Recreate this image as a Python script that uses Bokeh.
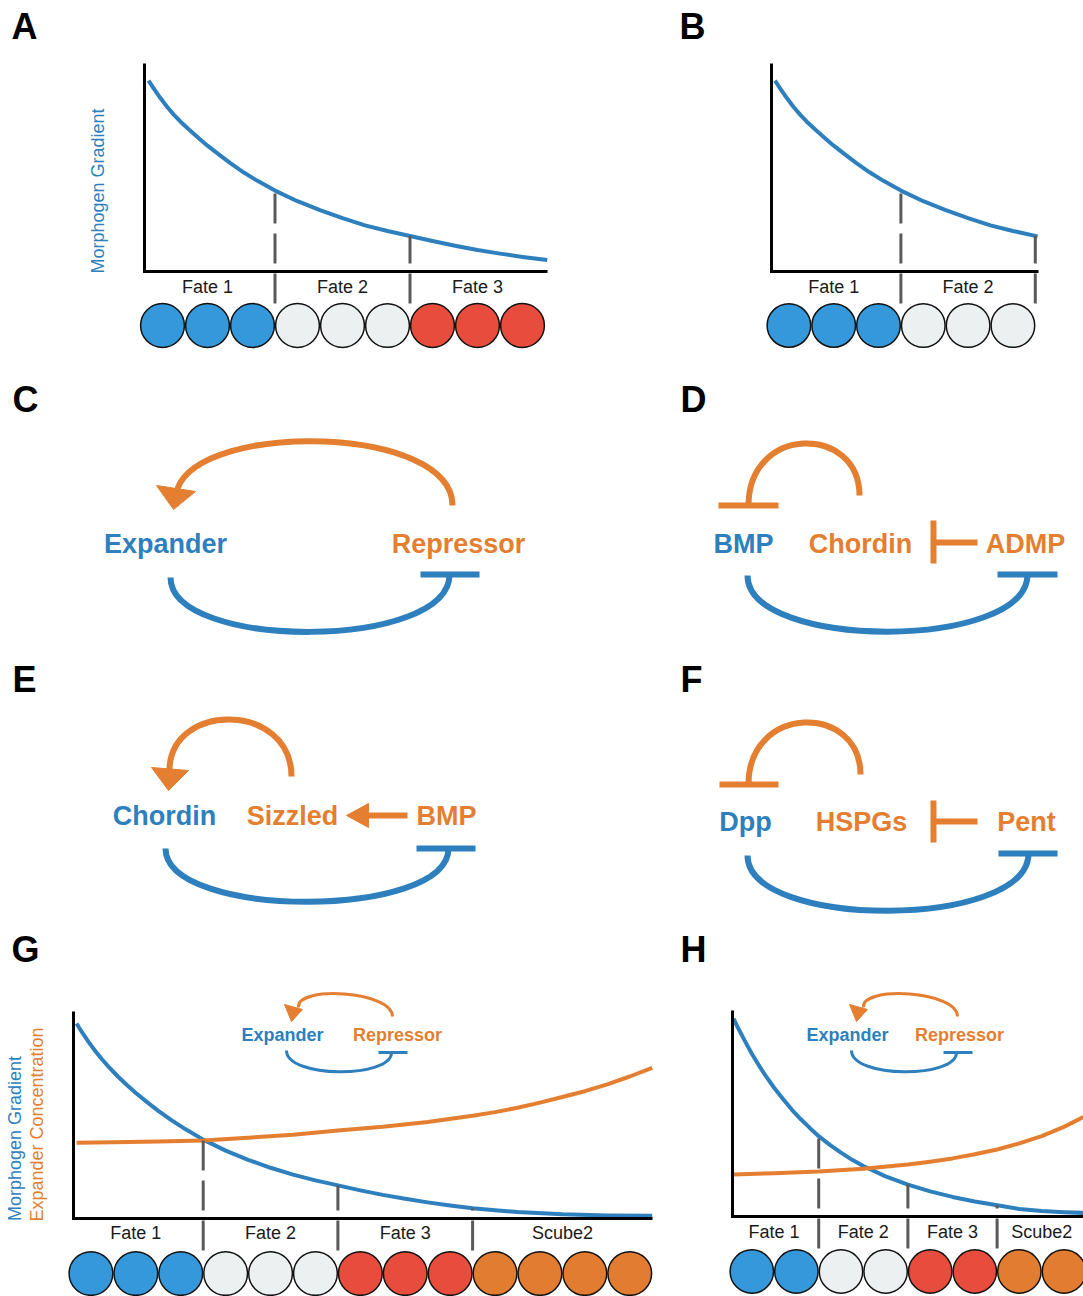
import numpy as np
from bokeh.plotting import figure
from bokeh.models import Range1d
from bokeh.core.properties import value
from bokeh.embed import file_html
from bokeh.resources import INLINE

# ------------------------------------------------------------------ data
# Morphogen / expander levels as a fraction of the axis height, sampled
# along the tissue (position in cell diameters from the source).
grad_a_pos = [0.19, 0.3, 0.45, 0.6, 0.75, 0.9, 1.1, 1.3, 1.5, 1.75, 2.0,
              2.3, 2.6, 3.0, 3.5, 4.0, 4.5, 5.0, 5.5, 6.0, 6.5, 7.0, 7.5,
              8.0, 8.5, 9.05]
grad_a_level = [0.918, 0.882, 0.835, 0.792, 0.754, 0.72, 0.68, 0.642, 0.605,
                0.563, 0.522, 0.477, 0.437, 0.389, 0.338, 0.295, 0.257,
                0.222, 0.195, 0.171, 0.147, 0.124, 0.103, 0.086, 0.07, 0.055]

grad_b_pos = [0.19, 0.3, 0.45, 0.6, 0.75, 0.9, 1.1, 1.3, 1.5, 1.75, 2.0,
              2.3, 2.6, 3.0, 3.5, 4.0, 4.5, 5.0, 5.5, 6.05]
grad_b_level = [0.918, 0.882, 0.835, 0.792, 0.754, 0.72, 0.68, 0.642, 0.605,
                0.563, 0.522, 0.477, 0.437, 0.389, 0.338, 0.295, 0.257,
                0.222, 0.195, 0.169]

grad_g_pos = [0.18, 0.3, 0.45, 0.6, 0.75, 0.9, 1.1, 1.3, 1.5, 1.75, 2.0,
              2.3, 2.6, 3.0, 3.5, 4.0, 4.5, 5.0, 5.5, 6.0, 6.5, 7.0, 7.5,
              8.0, 8.5, 9.0, 9.5, 10.0, 11.0, 12.0, 13.0]
grad_g_level = [0.942, 0.9, 0.852, 0.808, 0.768, 0.731, 0.686, 0.645, 0.606,
                0.562, 0.52, 0.474, 0.432, 0.381, 0.328, 0.283, 0.245, 0.212,
                0.184, 0.16, 0.136, 0.114, 0.095, 0.078, 0.063, 0.05, 0.04,
                0.031, 0.02, 0.015, 0.013]
expander_g_pos = [0.18, 1, 2, 3, 4, 5, 6, 7, 8, 9, 9.5, 10, 10.5, 11, 11.5,
                  12, 12.5, 13.0]
expander_g_level = [0.366, 0.368, 0.372, 0.377, 0.39, 0.405, 0.425, 0.443,
                    0.466, 0.496, 0.514, 0.535, 0.56, 0.587, 0.615, 0.648,
                    0.686, 0.728]

grad_h_pos = [0.09, 0.2, 0.35, 0.5, 0.65, 0.8, 1.0, 1.2, 1.4, 1.6, 1.8, 2.0,
              2.25, 2.5, 2.75, 3.0, 3.5, 4.0, 4.5, 5.0, 5.5, 6.0, 6.5, 7.0,
              7.5, 8.0]
grad_h_level = [0.96, 0.912, 0.85, 0.79, 0.737, 0.686, 0.625, 0.57, 0.518,
                0.472, 0.43, 0.39, 0.348, 0.31, 0.275, 0.245, 0.195, 0.155,
                0.122, 0.095, 0.073, 0.055, 0.036, 0.027, 0.021, 0.017]
expander_h_pos = [0.09, 1.0, 2.0, 3.0, 4.0, 4.5, 5.0, 5.5, 6.0, 6.5, 7.0,
                  7.5, 8.0]
expander_h_level = [0.204, 0.21, 0.218, 0.232, 0.252, 0.266, 0.282, 0.302,
                    0.325, 0.355, 0.39, 0.435, 0.49]

# cell fates along the tissue
cells_a = ["blue"] * 3 + ["grey"] * 3 + ["red"] * 3
cells_b = ["blue"] * 3 + ["grey"] * 3
cells_g = ["blue"] * 3 + ["grey"] * 3 + ["red"] * 3 + ["orange"] * 4
cells_h = ["blue"] * 2 + ["grey"] * 2 + ["red"] * 2 + ["orange"] * 2

fates_a = ["Fate 1", "Fate 2", "Fate 3"]
fates_b = ["Fate 1", "Fate 2"]
fates_gh = ["Fate 1", "Fate 2", "Fate 3", "Scube2"]
fate_mid_a = [1.5, 4.5, 7.5]
fate_mid_b = [1.5, 4.5]
fate_mid_g = [1.5, 4.5, 7.5, 11.0]
fate_mid_h = [1.0, 3.0, 5.0, 7.0]
borders_a = [3, 6]
borders_b = [3, 6]
borders_g = [3, 6, 9]
borders_h = [2, 4, 6]

# ---------------------------------------------------------------- styles
BLUE = "#2d7fbd"
ORANGE = "#e47e30"
DASH_GREY = "#5a5a5a"
CELL_COLORS = {"blue": "#3498db", "grey": "#ecf0f1",
               "red": "#e74c3c", "orange": "#e27c30"}
FONT = value("Liberation Sans")

W, H = 1083, 1296
p = figure(width=W, height=H, x_range=Range1d(0, W), y_range=Range1d(H, 0),
           output_backend="svg", toolbar_location=None, min_border=0,
           outline_line_color=None, background_fill_color="white",
           border_fill_color="white")
p.axis.visible = False
p.grid.visible = False

# panel frames (screen placement of each small chart)
PANELS = {
    "A": dict(x0=139.5, cell=45.0, base=271, height=208, axis_x=144,
              axis_top=63, axis_right=547, circle_y=325, label_y=293),
    "B": dict(x0=766, cell=44.8, base=271, height=208, axis_x=771,
              axis_top=63, axis_right=1038, circle_y=325, label_y=293),
    "G": dict(x0=68, cell=44.9, base=1218, height=207, axis_x=73,
              axis_top=1011, axis_right=652, circle_y=1273, label_y=1239),
    "H": dict(x0=729, cell=44.6, base=1216, height=206, axis_x=732,
              axis_top=1010, axis_right=1090, circle_y=1271, label_y=1238),
}


def px(pn, pos):
    return pn["x0"] + pn["cell"] * np.asarray(pos, dtype=float)


def py(pn, level):
    return pn["base"] - pn["height"] * np.asarray(level, dtype=float)


def text(xs, ys, labels, color, size, bold=False, align="center",
         baseline="alphabetic", angle=0.0):
    # ys are letter baselines; the renderer centres capitals on y, so lift
    # by half a cap height
    shift = 0.37 * size if baseline == "alphabetic" else 0.0
    p.text(x=list(xs), y=[float(v) - shift for v in ys], text=list(labels),
           text_color=color, text_font=FONT, text_font_size=value(f"{size}px"),
           text_font_style="bold" if bold else "normal",
           text_align=align, text_baseline=baseline, angle=angle)


def chart(pn, curves, cells, fates, fate_mid, borders, border_curve):
    for pos, lev, color in curves:
        p.line(px(pn, pos), py(pn, lev), line_color=color, line_width=4,
               line_join="round")
    p.line([pn["axis_x"], pn["axis_x"], pn["axis_right"]],
           [pn["axis_top"], pn["base"], pn["base"]],
           line_color="black", line_width=3, line_join="miter")
    bpos, blev = border_curve
    for b in borders:
        top = py(pn, np.interp(b, bpos, blev))
        xb = float(px(pn, b))
        p.line([xb, xb], [pn["base"] + 32, float(top)], line_color=DASH_GREY,
               line_width=3, line_dash="30 10")
    centers = px(pn, np.arange(len(cells)) + 0.5)
    p.circle(x=centers, y=[pn["circle_y"]] * len(cells),
             radius=pn["cell"] / 2 - 0.6,
             fill_color=[CELL_COLORS[c] for c in cells],
             line_color="#111111", line_width=1.5)
    text(px(pn, fate_mid), [pn["label_y"]] * len(fates), fates, "#1a1a1a", 18)


def bez(p0, c0, c1, p1, color, width):
    p.bezier(x0=[p0[0]], y0=[p0[1]], x1=[p1[0]], y1=[p1[1]],
             cx0=[c0[0]], cy0=[c0[1]], cx1=[c1[0]], cy1=[c1[1]],
             line_color=color, line_width=width)


def seg(a, b, color, width):
    p.line([a[0], b[0]], [a[1], b[1]], line_color=color, line_width=width)


def head(pts, color):
    p.patch([q[0] for q in pts], [q[1] for q in pts], fill_color=color,
            line_color=color, line_width=1)


# ------------------------------------------------------------ A and B
chart(PANELS["A"], [(grad_a_pos, grad_a_level, BLUE)], cells_a, fates_a,
      fate_mid_a, borders_a, (grad_a_pos, grad_a_level))
chart(PANELS["B"], [(grad_b_pos, grad_b_level, BLUE)], cells_b, fates_b,
      fate_mid_b, borders_b, (grad_b_pos, grad_b_level))
text([97.5], [190.5], ["Morphogen Gradient"], BLUE, 18,
     baseline="middle", angle=np.pi / 2)

# ------------------------------------------------------------ G and H
chart(PANELS["G"], [(grad_g_pos, grad_g_level, BLUE),
                    (expander_g_pos, expander_g_level, ORANGE)],
      cells_g, fates_gh, fate_mid_g, borders_g, (grad_g_pos, grad_g_level))
chart(PANELS["H"], [(grad_h_pos, grad_h_level, BLUE),
                    (expander_h_pos, expander_h_level, ORANGE)],
      cells_h, fates_gh, fate_mid_h, borders_h, (grad_h_pos, grad_h_level))
text([14], [1138], ["Morphogen Gradient"], BLUE, 18, baseline="middle",
     angle=np.pi / 2)
text([36], [1124], ["Expander Concentration"], ORANGE, 18, baseline="middle",
     angle=np.pi / 2)

# ------------------------------------------------- network diagrams
# C: expander / repressor loop
bez((452, 505), (452, 425), (203, 420), (177, 488), ORANGE, 6)
head([(156, 485), (195, 491), (173, 509)], ORANGE)
bez((170, 577), (170, 650), (449, 650), (449, 574), BLUE, 6)
seg((420, 574), (479, 574), BLUE, 6)
text([165], [553], ["Expander"], BLUE, 27, bold=True)
text([458], [553], ["Repressor"], ORANGE, 27, bold=True)

# D: BMP / Chordin / ADMP
bez((748, 505), (748, 424), (859, 424), (859, 495), ORANGE, 6)
seg((718, 505), (778, 505), ORANGE, 6)
seg((933, 520), (933, 563), ORANGE, 6)
seg((933, 542), (977, 542), ORANGE, 6)
bez((747, 575), (747, 650), (1027, 650), (1027, 574), BLUE, 6)
seg((997, 574), (1057, 574), BLUE, 6)
text([743], [553], ["BMP"], BLUE, 27, bold=True)
text([860, 1025], [553, 553], ["Chordin", "ADMP"], ORANGE, 27, bold=True)

# E: Chordin / Sizzled / BMP
bez((291, 776), (291, 701), (169, 701), (169, 770), ORANGE, 6)
head([(151, 767), (188, 770), (168, 790)], ORANGE)
seg((407, 815), (364, 815), ORANGE, 6)
head([(346, 815), (368, 803), (368, 827)], ORANGE)
bez((165, 848), (165, 919), (448, 919), (448, 848), BLUE, 6)
seg((416, 848), (475, 848), BLUE, 6)
text([164], [825], ["Chordin"], BLUE, 27, bold=True)
text([292, 446], [825, 825], ["Sizzled", "BMP"], ORANGE, 27, bold=True)

# F: Dpp / HSPGs / Pent
bez((748, 784), (748, 703), (860, 703), (860, 774), ORANGE, 6)
seg((719, 784), (778, 784), ORANGE, 6)
seg((933, 800), (933, 842), ORANGE, 6)
seg((933, 821), (977, 821), ORANGE, 6)
bez((747, 855), (747, 929), (1028, 929), (1028, 853), BLUE, 6)
seg((998, 853), (1057, 853), BLUE, 6)
text([745], [831], ["Dpp"], BLUE, 27, bold=True)
text([861, 1026], [831, 831], ["HSPGs", "Pent"], ORANGE, 27, bold=True)

# small loop insets in G and H
for dx, ex, rx in ((0, 282, 397), (565, 847, 959)):
    bez((392 + dx, 1016), (392 + dx, 990), (295 + dx, 985), (298 + dx, 1007),
        ORANGE, 3)
    head([(284 + dx, 1004), (302 + dx, 1009), (291 + dx, 1021)], ORANGE)
    bez((286 + dx, 1050), (286 + dx, 1078), (391 + dx, 1078), (391 + dx, 1052),
        BLUE, 3)
    seg((378 + dx, 1052), (407 + dx, 1052), BLUE, 3)
    text([ex], [1041], ["Expander"], BLUE, 18, bold=True)
    text([rx], [1041], ["Repressor"], ORANGE, 18, bold=True)

# panel letters
text([11, 679, 12, 680, 12, 680, 11, 680],
     [39, 39, 412, 412, 692, 692, 962, 962],
     list("ABCDEFGH"), "black", 36, bold=True, align="left")

open("out.html", "w").write(file_html(p, INLINE))
